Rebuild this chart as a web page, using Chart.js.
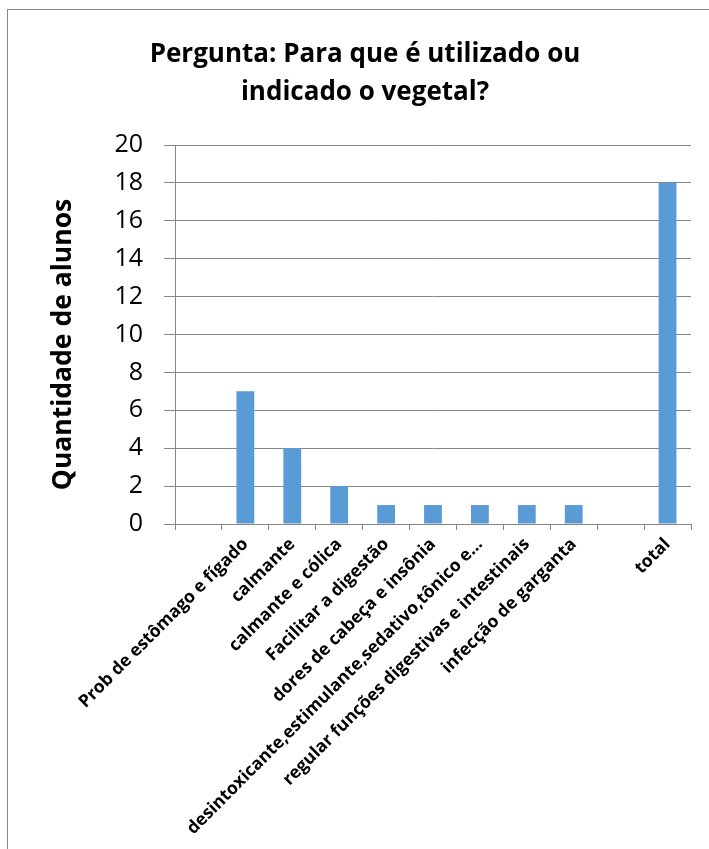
<!DOCTYPE html>
<html>
<head>
<meta charset="utf-8">
<script src="https://cdn.jsdelivr.net/npm/chart.js@4.4.1/dist/chart.umd.min.js"></script>
<style>
  html, body { margin: 0; padding: 0; background: #fff; }
  #wrap { position: relative; width: 709px; height: 849px; overflow: hidden; }
  #frame { position: absolute; left: 7px; top: 9px; width: 800px; height: 900px; border-left: 1px solid #868686; border-top: 1px solid #868686; }
  canvas { position: absolute; left: 0; top: 0; }
</style>
</head>
<body>
<div id="wrap">
  <div id="frame"></div>
  <canvas id="myChart" width="709" height="849"></canvas>
</div>
<script>
const categories = ['', 'Prob de estômago e fígado', 'calmante', 'calmante e cólica', 'Facilitar a digestão', 'dores de cabeça e insônia', 'desintoxicante,estimulante,sedativo,tônico e…', 'regular funções digestivas e intestinais', 'infecção de garganta', '', 'total'];
const alunos = [null, 7, 4, 2, 1, 1, 1, 1, 1, null, 18];
const yTicks = [0, 2, 4, 6, 8, 10, 12, 14, 16, 18, 20];
const titleLines = ['Pergunta: Para que é utilizado ou', 'indicado o vegetal?'];
const yTitle = 'Quantidade de alunos';

const fontFamily = '"Open Sans", Lato, sans-serif';

// titles drawn by hand so they sit where Excel put them
const chartTitles = {
  id: 'chartTitles',
  afterDraw(chart) {
    const ctx = chart.ctx;
    const area = chart.chartArea;
    ctx.save();
    ctx.fillStyle = '#000';
    ctx.textAlign = 'center';
    ctx.font = 'bold 26px ' + fontFamily;
    ctx.textBaseline = 'alphabetic';
    titleLines.forEach((t, i) => ctx.fillText(t, 365, 62 + i * 38));

    ctx.font = 'bold 26.5px ' + fontFamily;
    ctx.textBaseline = 'middle';
    ctx.translate(63, (area.top + area.bottom) / 2 + 10);
    ctx.rotate(-Math.PI / 2);
    ctx.fillText(yTitle, 0, 0);
    ctx.restore();
  }
};

const ctx = document.getElementById('myChart').getContext('2d');
const myChart = new Chart(ctx, {
  type: 'bar',
  data: {
    labels: categories,
    datasets: [{
      label: yTitle,
      data: alunos,
      backgroundColor: '#5B9BD5',
      borderWidth: 0,
      categoryPercentage: 0.38,
      barPercentage: 1
    }]
  },
  options: {
    responsive: false,
    animation: false,
    layout: { padding: { top: 145, right: 18, bottom: 0, left: 0 } },
    plugins: {
      legend: { display: false },
      tooltip: { enabled: false }
    },
    scales: {
      x: {
        grid: { drawOnChartArea: false, tickLength: 6, color: '#868686' },
        border: { color: '#868686' },
        ticks: {
          autoSkip: false,
          maxRotation: 45,
          minRotation: 45,
          padding: 4,
          color: '#000',
          font: { family: fontFamily, size: 17.5, weight: 'bold' }
        },
        afterFit(scale) { scale.height = 849 - 524; }
      },
      y: {
        min: 0,
        max: 20,
        afterBuildTicks(scale) { scale.ticks = yTicks.map(v => ({ value: v })); },
        grid: { color: '#868686', tickLength: 11 },
        border: { color: '#868686' },
        ticks: {
          padding: 21,
          color: '#000',
          font: { family: fontFamily, size: 25 }
        },
        afterFit(scale) { scale.width = 175; }
      }
    }
  },
  plugins: [chartTitles]
});
</script>
</body>
</html>
